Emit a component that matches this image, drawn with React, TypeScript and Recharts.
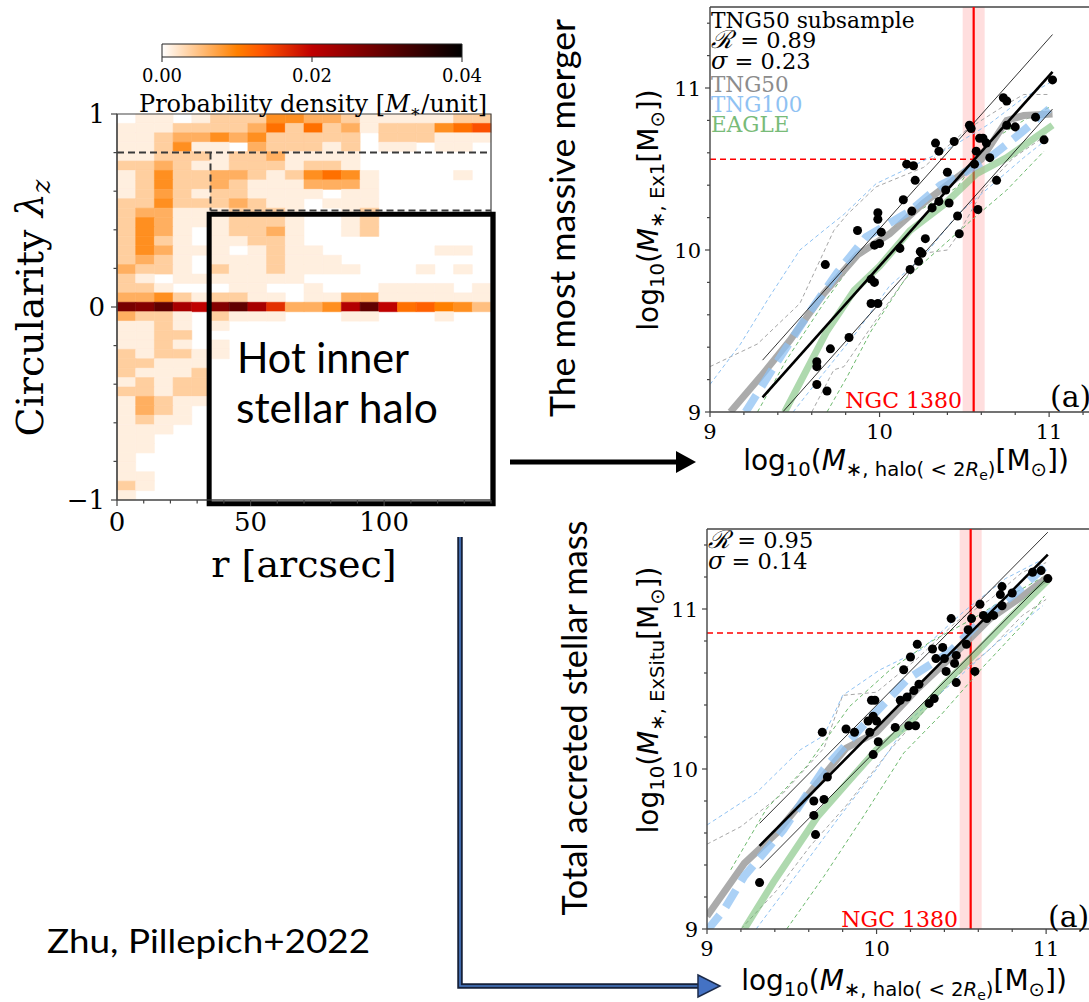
import React from "react";
import {
  ComposedChart,
  Line,
  ReferenceArea,
  ReferenceLine,
  Scatter,
  XAxis,
  YAxis,
} from "recharts";

const SERIF = '"DejaVu Serif", serif';
// separate family string so glyph fallback for the script R does not leak
// into the rest of the line
const SERIF_TXT = '"DejaVu Serif", "Liberation Serif", serif';
const SANS = '"DejaVu Sans", sans-serif';
const SLIDE = 'Lato, "Open Sans", sans-serif';

type Pt = [number, number];

// ---------------------------------------------------------------------------
// Phase-space map: 20 radial bins of 7" and 41 circularity bins on [-1, 1].
// One string per circularity bin, top (lambda_z ~ +1) first; each char is a
// base-36 density in units of DENSITY_STEP.
// ---------------------------------------------------------------------------
const R_BIN = 7;
const N_LZ = 41;
const LZ_BIN = 2 / N_LZ;
const DENSITY_STEP = 0.00125;
const DENSITY_MAX = 0.04;

const DENSITY_ROWS = [
  "01101333775531111133",
  "1113333593935133379b",
  "11355757333330333111",
  "11371105333130110110",
  "11333133511110000000",
  "33531133313310000000",
  "13733553137971000010",
  "13733531115551000000",
  "13631331111011000000",
  "33733353110111000000",
  "35511133310013000000",
  "37511133310013000000",
  "37510133510013000000",
  "37310113310000000000",
  "37511101311000000110",
  "35310111311100000000",
  "53310311311110001010",
  "31011111110000000000",
  "33100011001000111101",
  "55731331101155111111",
  "mloigloid557hog9a874",
  "53310311100011000100",
  "11310100000000000000",
  "11330000000000000000",
  "11310100000000000000",
  "31331100000000000000",
  "33111000000000000000",
  "31113000000000000000",
  "13133000000000000000",
  "33133000000000000000",
  "15311000000000000000",
  "15310000000000000000",
  "13110000000000000000",
  "11100000000000000000",
  "11000000000000000000",
  "11000000000000000000",
  "10000000000000000000",
  "10000000000000000000",
  "11000000000000000000",
  "31000000000000000000",
  "10000000000000000000",
];

const R_TICKS = [0, 10, 20, 30, 40, 50, 60, 70, 80, 90, 100, 110, 120, 130, 140];
const R_MAJOR = [0, 50, 100];
const LZ_TICKS = [-1, -0.8, -0.6, -0.4, -0.2, 0, 0.2, 0.4, 0.6, 0.8, 1];
const LZ_MAJOR = [-1, 0, 1];
const CBAR_TICKS = [0, 0.02, 0.04];
// breakpoints of the gist_heat_r colormap
const CMAP_STOPS = [0, 0.25, 1 / 3, 0.5, 1];

// hot-halo selection: lambda_z < 0.5 beyond 35", disc cut at lambda_z = 0.8
const DISC_CUT = 0.8;
const HALO_CUT = 0.5;
const HALO_R = 35;

// ---------------------------------------------------------------------------
// Mass relations (log10 Msun). Panel A: most massive merger, panel B: total
// accreted mass, both against the hot inner halo mass.
// ---------------------------------------------------------------------------
const MASS_X_TICKS = [9, 9.2, 9.4, 9.6, 9.8, 10, 10.2, 10.4, 10.6, 10.8, 11, 11.2];
const MASS_Y_TICKS = [9, 9.2, 9.4, 9.6, 9.8, 10, 10.2, 10.4, 10.6, 10.8, 11, 11.2, 11.4];
const MASS_MAJOR = [9, 10, 11];

const NGC1380_HALO = 10.555;
const NGC1380_HALO_ERR: Pt = [10.49, 10.62];
const NGC1380_EX1 = 10.56;
const NGC1380_EXSITU = 10.85;

const POINTS_A: Pt[] = [
  [11.02, 11.05], [10.73, 10.94], [10.75, 10.92], [10.92, 10.82], [10.75, 10.77],
  [10.8, 10.76], [10.53, 10.77], [10.54, 10.75], [10.97, 10.68], [10.61, 10.69],
  [10.59, 10.69], [10.63, 10.66], [10.33, 10.66], [10.44, 10.67], [10.35, 10.61],
  [10.57, 10.61], [10.65, 10.57], [10.56, 10.53], [10.16, 10.53], [10.2, 10.52],
  [10.4, 10.48], [10.21, 10.43], [10.69, 10.43], [10.39, 10.37], [10.14, 10.31],
  [10.35, 10.3], [10.41, 10.29], [10.31, 10.26], [10.19, 10.24], [10.58, 10.25],
  [9.99, 10.23], [9.99, 10.19], [10.46, 10.21], [9.87, 10.12], [10.01, 10.11],
  [10.27, 10.07], [10.47, 10.1], [9.97, 10.03], [10.0, 10.04], [10.12, 10.01],
  [10.24, 9.99], [10.25, 9.98], [10.23, 9.93], [9.68, 9.91], [10.18, 9.88],
  [9.95, 9.82], [9.97, 9.8], [9.95, 9.67], [9.99, 9.67], [9.82, 9.46],
  [9.71, 9.39], [9.63, 9.31], [9.63, 9.28], [9.63, 9.17], [9.69, 9.13],
];
const TNG50_A: Pt[] = [
  [9.12, 9.0], [9.3, 9.22], [9.47, 9.44], [9.67, 9.73], [9.87, 9.97], [10.06, 10.1],
  [10.26, 10.29], [10.46, 10.45], [10.6, 10.56], [10.75, 10.8], [10.85, 10.83], [11.02, 10.84],
];
const TNG100_A: Pt[] = [
  [9.21, 9.0], [9.39, 9.3], [9.57, 9.59], [9.75, 9.86], [9.92, 10.08], [10.18, 10.24],
  [10.36, 10.4], [10.49, 10.47], [10.65, 10.57], [10.83, 10.72], [11.0, 10.87],
];
const EAGLE_A: Pt[] = [
  [9.44, 9.0], [9.57, 9.26], [9.69, 9.5], [9.85, 9.75], [10.0, 9.9], [10.18, 10.12],
  [10.38, 10.28], [10.57, 10.47], [10.75, 10.57], [11.02, 10.77],
];
const TNG50_A_HI: Pt[] = [
  [9.0, 9.28], [9.28, 9.42], [9.53, 9.67], [9.73, 10.12], [9.81, 10.22], [9.98, 10.39],
  [10.26, 10.51], [10.51, 10.74], [10.75, 10.9], [10.85, 10.96], [10.99, 10.96],
];
const TNG50_A_LO: Pt[] = [
  [9.6, 9.0], [9.73, 9.26], [9.79, 9.28], [9.98, 9.57], [10.26, 9.98], [10.4, 10.0],
  [10.46, 10.09], [10.61, 10.37], [10.79, 10.57], [11.0, 10.72],
];
const TNG100_A_HI: Pt[] = [
  [9.0, 9.17], [9.18, 9.42], [9.35, 9.71], [9.53, 10.0], [9.67, 10.12], [9.79, 10.22],
  [9.98, 10.41], [10.18, 10.51], [10.43, 10.64], [10.65, 10.78], [10.85, 10.94], [11.0, 11.03],
];
const TNG100_A_LO: Pt[] = [
  [9.49, 9.0], [9.67, 9.24], [9.87, 9.5], [10.06, 9.78], [10.26, 9.96], [10.46, 10.22],
  [10.65, 10.39], [10.85, 10.57], [10.97, 10.67],
];
const EAGLE_A_HI: Pt[] = [
  [9.28, 9.0], [9.45, 9.32], [9.67, 9.67], [9.87, 9.96], [10.06, 10.12], [10.26, 10.26],
  [10.46, 10.39], [10.65, 10.67], [10.85, 10.8], [11.0, 10.88],
];
const EAGLE_A_LO: Pt[] = [
  [9.69, 9.0], [9.81, 9.22], [9.95, 9.5], [10.15, 9.82], [10.43, 10.08], [10.56, 10.2],
  [10.75, 10.37], [10.97, 10.61],
];
const FIT_A: Pt[] = [[9.31, 9.09], [11.02, 11.1]];
const R_A = 0.89;
const SIGMA_A = 0.23;

const POINTS_B: Pt[] = [
  [11.01, 11.19], [10.97, 11.24], [10.92, 11.23], [10.74, 11.14], [10.73, 11.09],
  [10.8, 11.1], [10.74, 11.02], [10.61, 11.03], [10.44, 10.94], [10.56, 10.94],
  [10.63, 10.96], [10.69, 10.96], [10.65, 10.94], [10.54, 10.87], [10.24, 10.78],
  [10.33, 10.75], [10.39, 10.76], [10.53, 10.78], [10.2, 10.7], [10.35, 10.69],
  [10.4, 10.69], [10.47, 10.71], [10.16, 10.62], [10.46, 10.66], [10.41, 10.61],
  [10.58, 10.61], [10.47, 10.54], [10.25, 10.53], [10.22, 10.49], [10.14, 10.43],
  [10.18, 10.45], [9.97, 10.43], [9.99, 10.43], [10.31, 10.41], [10.34, 10.44],
  [9.98, 10.33], [9.95, 10.3], [10.0, 10.3], [10.11, 10.26], [10.19, 10.27],
  [10.23, 10.27], [9.82, 10.25], [9.87, 10.23], [9.68, 10.23], [9.96, 10.23],
  [10.01, 10.17], [9.98, 10.09], [9.71, 9.95], [9.63, 9.8], [9.69, 9.81],
  [9.63, 9.71], [9.64, 9.59], [9.31, 9.29],
];
const TNG50_B: Pt[] = [
  [9.0, 9.08], [9.22, 9.41], [9.41, 9.6], [9.65, 9.91], [9.82, 10.13], [10.0, 10.23],
  [10.24, 10.5], [10.47, 10.73], [10.67, 10.94], [10.86, 11.08], [11.01, 11.2],
];
const TNG100_B: Pt[] = [
  [9.0, 8.99], [9.1, 9.12], [9.22, 9.33], [9.45, 9.62], [9.69, 10.0], [9.92, 10.27],
  [10.18, 10.56], [10.43, 10.73], [10.63, 10.94], [10.82, 11.1], [11.0, 11.27],
];
const EAGLE_B: Pt[] = [
  [9.22, 9.0], [9.39, 9.29], [9.65, 9.7], [9.84, 9.93], [10.0, 10.12], [10.18, 10.27],
  [10.39, 10.52], [10.59, 10.73], [10.78, 10.94], [11.01, 11.18],
];
const TNG50_B_HI: Pt[] = [
  [9.0, 9.53], [9.2, 9.64], [9.45, 9.85], [9.69, 10.13], [9.8, 10.46], [10.0, 10.48],
  [10.24, 10.69], [10.47, 10.92], [10.67, 11.06], [10.86, 11.23], [11.0, 11.29],
];
const TNG50_B_LO: Pt[] = [
  [9.2, 9.0], [9.41, 9.24], [9.61, 9.52], [9.82, 9.77], [10.08, 10.12], [10.27, 10.35],
  [10.47, 10.58], [10.67, 10.75], [10.86, 10.96], [11.0, 11.06],
];
const TNG100_B_HI: Pt[] = [
  [9.0, 9.65], [9.29, 9.85], [9.55, 10.12], [9.69, 10.21], [9.8, 10.46], [10.02, 10.62],
  [10.27, 10.75], [10.51, 10.98], [10.76, 11.19], [10.98, 11.31],
];
const TNG100_B_LO: Pt[] = [
  [9.29, 9.0], [9.55, 9.37], [9.78, 9.7], [10.0, 10.0], [10.2, 10.31], [10.47, 10.56],
  [10.71, 10.79], [10.98, 11.02],
];
const EAGLE_B_HI: Pt[] = [
  [9.14, 9.37], [9.35, 9.75], [9.59, 10.02], [9.84, 10.39], [10.08, 10.62], [10.31, 10.79],
  [10.57, 10.94], [10.78, 11.08], [11.0, 11.21],
];
const EAGLE_B_LO: Pt[] = [
  [9.47, 9.0], [9.69, 9.33], [9.92, 9.7], [10.16, 10.1], [10.39, 10.35], [10.63, 10.64],
  [10.86, 10.9], [10.99, 11.08],
];
const FIT_B: Pt[] = [[9.31, 9.52], [11.01, 11.34]];
const R_B = 0.95;
const SIGMA_B = 0.14;

const C_TNG50 = "#a6a6a6";
const C_TNG100 = "#8fc2f3";
const C_EAGLE = "#6cb96c";
const AXIS = "#444";

// gist_heat_r, t in [0, 1]
function gistHeatR(t: number): string {
  const u = 1 - Math.min(1, Math.max(0, t));
  const r = Math.min(1, 1.5 * u);
  const g = Math.max(0, Math.min(1, 2 * u - 1));
  const b = Math.max(0, Math.min(1, 4 * u - 3));
  return `rgb(${Math.round(r * 255)},${Math.round(g * 255)},${Math.round(b * 255)})`;
}

const cells = DENSITY_ROWS.flatMap((row, i) => {
  const k = N_LZ - 1 - i;
  return row.split("").map((ch, c) => ({
    r0: c * R_BIN,
    r1: (c + 1) * R_BIN,
    l0: -1 + k * LZ_BIN,
    l1: -1 + (k + 1) * LZ_BIN,
    d: parseInt(ch, 36) * DENSITY_STEP,
  }));
}).filter((c) => c.d > 0);

const toXY = (pts: Pt[]) => pts.map(([x, y]) => ({ x, y }));
const shift = (pts: Pt[], dy: number): Pt[] => pts.map(([x, y]) => [x, y + dy]);
const fmtMinus = (v: number) => (v < 0 ? `\u2212${Math.abs(v)}` : `${v}`);

interface TickOpts {
  side: "bottom" | "left";
  major: number[];
  fontSize: number;
  majorLen: number;
  minorLen: number;
  pad: number;
  format?: (v: number) => string;
}

// outward matplotlib-style ticks, label only on the majors
function axisTick(o: TickOpts) {
  return (props: any) => {
    const { x, y, payload } = props;
    const v = Number(payload.value);
    const isMajor = o.major.some((m) => Math.abs(m - v) < 1e-6);
    const len = isMajor ? o.majorLen : o.minorLen;
    const label = o.format ? o.format(v) : String(v);
    if (o.side === "bottom") {
      return (
        <g>
          <line x1={x} x2={x} y1={y} y2={y + len} stroke={AXIS} strokeWidth={1.2} />
          {isMajor && (
            <text x={x} y={y + len + o.pad + o.fontSize * 0.73} textAnchor="middle"
              fontFamily={SERIF} fontSize={o.fontSize} fill="#000">
              {label}
            </text>
          )}
        </g>
      );
    }
    return (
      <g>
        <line x1={x - len} x2={x} y1={y} y2={y} stroke={AXIS} strokeWidth={1.2} />
        {isMajor && (
          <text x={x - len - o.pad} y={y + o.fontSize * 0.365} textAnchor="end"
            fontFamily={SERIF} fontSize={o.fontSize} fill="#000">
            {label}
          </text>
        )}
      </g>
    );
  };
}

function ColourBar() {
  return (
    <div style={{ position: "absolute", left: 100, top: 20 }}>
      <ComposedChart width={420} height={70} margin={{ top: 24, right: 58, bottom: 0, left: 62 }}>
        <defs>
          <linearGradient id="cbar" x1="0" x2="1" y1="0" y2="0">
            {CMAP_STOPS.map((t) => (
              <stop key={t} offset={`${t * 100}%`} stopColor={gistHeatR(t)} />
            ))}
          </linearGradient>
        </defs>
        <XAxis type="number" dataKey="d" domain={[0, DENSITY_MAX]} ticks={CBAR_TICKS} interval={0}
          tickSize={0} tickMargin={0} axisLine={false} height={33}
          tick={axisTick({ side: "bottom", major: CBAR_TICKS, fontSize: 18, majorLen: 5, minorLen: 3, pad: 7, format: (v) => v.toFixed(2) })} />
        <YAxis type="number" dataKey="v" domain={[0, 1]} hide />
        <ReferenceArea x1={0} x2={DENSITY_MAX} y1={0} y2={1} fill="url(#cbar)" fillOpacity={1}
          stroke="#222" strokeWidth={1} />
        <Scatter data={CBAR_TICKS.map((d) => ({ d, v: 0.5 }))} shape={() => <g />} isAnimationActive={false} />
      </ComposedChart>
    </div>
  );
}

function PhaseMap() {
  return (
    <div style={{ position: "absolute", left: 0, top: 0 }}>
      <ComposedChart width={520} height={600} margin={{ top: 114, right: 29, bottom: 60, left: 57 }}>
        <XAxis type="number" dataKey="r" domain={[0, 140]} ticks={R_TICKS} interval={0}
          tickSize={0} tickMargin={0} height={40} axisLine={{ stroke: AXIS, strokeWidth: 1.2 }}
          tick={axisTick({ side: "bottom", major: R_MAJOR, fontSize: 26, majorLen: 6, minorLen: 3.5, pad: 6 })} />
        <YAxis type="number" dataKey="lz" domain={[-1, 1]} ticks={LZ_TICKS} interval={0}
          tickSize={0} tickMargin={0} width={60} axisLine={{ stroke: AXIS, strokeWidth: 1.2 }}
          tick={axisTick({ side: "left", major: LZ_MAJOR, fontSize: 26, majorLen: 6, minorLen: 3.5, pad: 6, format: fmtMinus })} />
        {cells.map((c, i) => {
          const col = gistHeatR(c.d / DENSITY_MAX);
          return (
            <ReferenceArea key={`cell-${i}`} x1={c.r0} x2={c.r1} y1={c.l0} y2={c.l1}
              fill={col} fillOpacity={1} stroke={col} strokeWidth={0.6} ifOverflow="visible" />
          );
        })}
        <ReferenceLine segment={[{ x: 0, y: DISC_CUT }, { x: 140, y: DISC_CUT }]}
          stroke="#3a3a3a" strokeWidth={2} strokeDasharray="7 4" />
        <ReferenceLine segment={[{ x: HALO_R, y: DISC_CUT }, { x: HALO_R, y: HALO_CUT }]}
          stroke="#3a3a3a" strokeWidth={2} strokeDasharray="7 4" />
        <ReferenceLine segment={[{ x: HALO_R, y: HALO_CUT }, { x: 140, y: HALO_CUT }]}
          stroke="#3a3a3a" strokeWidth={2} strokeDasharray="7 4" />
        <ReferenceArea x1={0} x2={140} y1={-1} y2={1} fill="none" stroke={AXIS} strokeWidth={1.2} />
        <ReferenceArea x1={HALO_R - 0.5} x2={140.8} y1={-1.02} y2={HALO_CUT - 0.02} fill="none"
          stroke="#000" strokeWidth={5} ifOverflow="visible" />
        <Scatter data={cells.map((c) => ({ r: (c.r0 + c.r1) / 2, lz: (c.l0 + c.l1) / 2 }))}
          shape={() => <g />} isAnimationActive={false} />
      </ComposedChart>
    </div>
  );
}

interface PanelProps {
  left: number;
  top: number;
  bottomMargin: number;
  points: Pt[];
  median: { tng50: Pt[]; tng100: Pt[]; eagle: Pt[] };
  spread: Pt[][][]; // [series][hi, lo]
  fit: Pt[];
  sigma: number;
  ngcY: number;
}

const SPREAD_COLOURS = [C_TNG50, C_TNG100, C_EAGLE];

function RelationPanel(p: PanelProps) {
  const line = (pts: Pt[], key: string, props: Record<string, unknown>) => (
    <Line key={key} data={toXY(pts)} dataKey="y" type="linear" dot={false} activeDot={false}
      isAnimationActive={false} {...props} />
  );
  return (
    <div style={{ position: "absolute", left: p.left, top: p.top }}>
      <ComposedChart width={510} height={470} margin={{ top: 7, right: 10, bottom: p.bottomMargin, left: 50 }}>
        <XAxis type="number" dataKey="x" domain={[9, 11.3]} allowDataOverflow ticks={MASS_X_TICKS}
          interval={0} tickSize={0} tickMargin={0} height={40} axisLine={{ stroke: AXIS, strokeWidth: 1.4 }}
          tick={axisTick({ side: "bottom", major: MASS_MAJOR, fontSize: 21, majorLen: 5, minorLen: 3, pad: 7 })} />
        <YAxis type="number" dataKey="y" domain={[9, 11.5]} allowDataOverflow ticks={MASS_Y_TICKS}
          interval={0} tickSize={0} tickMargin={0} width={60} axisLine={{ stroke: AXIS, strokeWidth: 1.4 }}
          tick={axisTick({ side: "left", major: MASS_MAJOR, fontSize: 21, majorLen: 5, minorLen: 3, pad: 4 })} />
        <ReferenceArea x1={NGC1380_HALO_ERR[0]} x2={NGC1380_HALO_ERR[1]} fill="#ff0000"
          fillOpacity={0.13} stroke="none" />
        <ReferenceLine y={11.5} stroke={AXIS} strokeWidth={1.4} />
        <ReferenceLine x={NGC1380_HALO} stroke="#ff0000" strokeWidth={2.2} />
        <ReferenceLine segment={[{ x: 9, y: p.ngcY }, { x: NGC1380_HALO, y: p.ngcY }]}
          stroke="#ff0000" strokeWidth={1.6} strokeDasharray="6 4" />
        {p.spread.flatMap((pair, i) =>
          pair.map((pts, j) =>
            line(pts, `spread-${i}-${j}`, {
              stroke: SPREAD_COLOURS[i],
              strokeWidth: 1,
              strokeDasharray: "4 3",
            }),
          ),
        )}
        <Scatter data={toXY(p.points)} fill="#000" isAnimationActive={false} />
        {line(p.median.tng50, "tng50", { stroke: C_TNG50, strokeWidth: 7, strokeOpacity: 0.95 })}
        {line(p.median.tng100, "tng100", {
          stroke: C_TNG100, strokeWidth: 8, strokeOpacity: 0.75, strokeDasharray: "20 10",
        })}
        {line(p.median.eagle, "eagle", { stroke: C_EAGLE, strokeWidth: 7, strokeOpacity: 0.55 })}
        {line(shift(p.fit, p.sigma), "fit-hi", { stroke: "#000", strokeWidth: 0.8 })}
        {line(shift(p.fit, -p.sigma), "fit-lo", { stroke: "#000", strokeWidth: 0.8 })}
        {line(p.fit, "fit", { stroke: "#000", strokeWidth: 2.6 })}
      </ComposedChart>
    </div>
  );
}

function MassLabel({ x, y, rotate, children }: { x: number; y: number; rotate?: boolean; children: React.ReactNode }) {
  const s = 19.6;
  return (
    <text x={x} y={y} textAnchor="middle" fontFamily={SANS} fontSize={28} fill="#000"
      transform={rotate ? `rotate(-90 ${x} ${y})` : undefined}>
      log<tspan dy={6} fontSize={s}>10</tspan>
      <tspan dy={-6}>(</tspan>
      <tspan fontStyle="italic">M</tspan>
      <tspan dy={6} fontSize={s}>{"\u2217, "}{children}</tspan>
      <tspan dy={-6}>[M</tspan>
      <tspan dy={6} fontSize={s}>{"\u2299"}</tspan>
      <tspan dy={-6}>])</tspan>
    </text>
  );
}

const HaloSub = () => (
  <>
    {"halo( < 2"}
    <tspan fontStyle="italic">R</tspan>
    <tspan dy={4} fontSize={14}>e</tspan>
    <tspan dy={-4}>)</tspan>
  </>
);

// correlation / scatter block in the top-left corner of a relation panel
function StatLines({ x, y, r, sigma }: { x: number; y: number; r: number; sigma: number }) {
  return (
    <g>
      <text x={x} y={y} fontSize={22.5} fill="#000">
        <tspan fontFamily={SERIF} fontStyle="italic" fontSize={25}>{"\u211b"}</tspan>
        <tspan fontFamily={SERIF_TXT}>{` = ${r.toFixed(2)}`}</tspan>
      </text>
      <text x={x} y={y + 20.5} fontSize={22.5} fill="#000">
        <tspan fontFamily={SERIF} fontStyle="italic" fontSize={24}>{"\u03c3"}</tspan>
        <tspan fontFamily={SERIF_TXT}>{` = ${sigma.toFixed(2)}`}</tspan>
      </text>
    </g>
  );
}

function Annotations() {
  return (
    <svg width={1089} height={1002} style={{ position: "absolute", left: 0, top: 0, pointerEvents: "none" }}>
      {/* left panel */}
      <text x={313} y={112} textAnchor="middle" fontFamily={SERIF} fontSize={24} fill="#000">
        Probability density [<tspan fontStyle="italic">M</tspan>
        <tspan dy={5} fontSize={17}>{"\u2217"}</tspan>
        <tspan dy={-5}>/unit]</tspan>
      </text>
      <text x={304} y={577} textAnchor="middle" fontFamily={SERIF} fontSize={38} fill="#000">r [arcsec]</text>
      <text x={43} y={308} textAnchor="middle" fontFamily={SERIF} fontSize={38} fill="#000"
        transform="rotate(-90 43 308)">
        Circularity <tspan fontStyle="italic">{"\u03bb"}</tspan>
        <tspan dy={7} fontSize={26} fontStyle="italic">z</tspan>
      </text>
      <text x={237} y={373} fontFamily={SLIDE} fontSize={42} fill="#000"
        textLength={172} lengthAdjust="spacingAndGlyphs">Hot inner</text>
      <text x={236} y={423} fontFamily={SLIDE} fontSize={42} fill="#000"
        textLength={202} lengthAdjust="spacingAndGlyphs">stellar halo</text>
      <text x={47} y={953} fontFamily={SLIDE} fontSize={33} fill="#000"
        textLength={323} lengthAdjust="spacingAndGlyphs">Zhu, Pillepich+2022</text>

      {/* arrows */}
      <line x1={510} y1={462} x2={678} y2={462} stroke="#000" strokeWidth={5} />
      <polygon points="676,451 696,462 676,473" fill="#000" />
      <path d="M 460 537 V 986 H 700" fill="none" stroke="#16213a" strokeWidth={5.5} />
      <path d="M 460 537 V 986 H 700" fill="none" stroke="#4a7cc9" strokeWidth={1.6} />
      <polygon points="698,975 720,986 698,997" fill="#4472c4" stroke="#1c2b4a" strokeWidth={1.5} />

      {/* section labels */}
      <text x={575} y={218} textAnchor="middle" fontFamily={SLIDE} fontSize={35} fill="#000"
        transform="rotate(-90 575 218)" textLength={398} lengthAdjust="spacingAndGlyphs">
        The most massive merger
      </text>
      <text x={587} y={718} textAnchor="middle" fontFamily={SLIDE} fontSize={35} fill="#000"
        transform="rotate(-90 587 718)" textLength={395} lengthAdjust="spacingAndGlyphs">
        Total accreted stellar mass
      </text>

      {/* panel A */}
      <text x={711} y={28} fontFamily={SERIF} fontSize={21.8} fill="#000">TNG50 subsample</text>
      <StatLines x={711} y={48} r={R_A} sigma={SIGMA_A} />
      <text fontFamily={SERIF} fontSize={21.5}>
        <tspan x={711} y={92} fill="#8c8c8c">TNG50</tspan>
        <tspan x={711} y={112} fill={C_TNG100}>TNG100</tspan>
        <tspan x={711} y={132} fill="#78bb78">EAGLE</tspan>
      </text>
      <text x={962} y={408} textAnchor="end" fontFamily={SERIF} fontSize={22} fill="#ff0000">NGC 1380</text>
      <text x={1050} y={407} fontFamily={SERIF} fontSize={30} fill="#000">(a)</text>
      <MassLabel x={658} y={210} rotate>Ex1</MassLabel>
      <MassLabel x={906} y={470}><HaloSub /></MassLabel>

      {/* panel B */}
      <StatLines x={708} y={548} r={R_B} sigma={SIGMA_B} />
      <text x={958} y={927} textAnchor="end" fontFamily={SERIF} fontSize={22} fill="#ff0000">NGC 1380</text>
      <text x={1048} y={927} fontFamily={SERIF} fontSize={30} fill="#000">(a)</text>
      <MassLabel x={658} y={700} rotate>ExSitu</MassLabel>
      <MassLabel x={904} y={990}><HaloSub /></MassLabel>
    </svg>
  );
}

export default function App() {
  return (
    <div style={{ position: "absolute", left: 0, top: 0, width: 1089, height: 1002, overflow: "hidden", background: "#fff" }}>
      <PhaseMap />
      <ColourBar />
      <RelationPanel
        left={600}
        top={0}
        bottomMargin={18}
        points={POINTS_A}
        median={{ tng50: TNG50_A, tng100: TNG100_A, eagle: EAGLE_A }}
        spread={[[TNG50_A_HI, TNG50_A_LO], [TNG100_A_HI, TNG100_A_LO], [EAGLE_A_HI, EAGLE_A_LO]]}
        fit={FIT_A}
        sigma={SIGMA_A}
        ngcY={NGC1380_EX1}
      />
      <RelationPanel
        left={597}
        top={522}
        bottomMargin={23}
        points={POINTS_B}
        median={{ tng50: TNG50_B, tng100: TNG100_B, eagle: EAGLE_B }}
        spread={[[TNG50_B_HI, TNG50_B_LO], [TNG100_B_HI, TNG100_B_LO], [EAGLE_B_HI, EAGLE_B_LO]]}
        fit={FIT_B}
        sigma={SIGMA_B}
        ngcY={NGC1380_EXSITU}
      />
      <Annotations />
    </div>
  );
}
